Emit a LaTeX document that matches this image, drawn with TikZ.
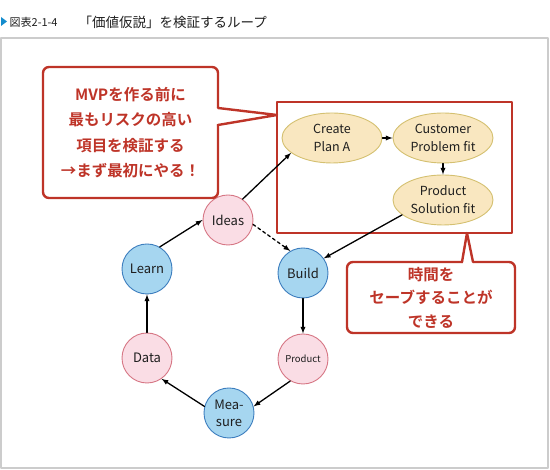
\documentclass[tikz,border=0pt]{standalone}
\usepackage{fontspec}
\setmainfont{Noto Sans CJK JP}[BoldFont={Noto Sans CJK JP Bold}]
\usetikzlibrary{shapes.geometric}
\definecolor{calloutred}{RGB}{190,52,40}
\definecolor{pinkfill}{RGB}{250,221,229}
\definecolor{pinkline}{RGB}{214,118,132}
\definecolor{bluefill}{RGB}{166,214,240}
\definecolor{blueline}{RGB}{60,125,190}
\definecolor{planfill}{RGB}{249,231,192}
\definecolor{planline}{RGB}{212,192,112}
\definecolor{framegray}{RGB}{204,204,204}
\definecolor{titleblue}{RGB}{20,140,205}
\definecolor{inktext}{RGB}{30,30,30}
\begin{document}
\begin{tikzpicture}[x=1pt,y=1pt,line width=1.3pt,>=latex,
  line cap=round,line join=round,font=\fontsize{13}{17}\selectfont,
  pinkcirc/.style={circle,draw=pinkline,fill=pinkfill,line width=.9pt,
    minimum size=50pt,inner sep=0pt,align=center,text=inktext},
  bluecirc/.style={circle,draw=blueline,fill=bluefill,line width=.9pt,
    minimum size=50pt,inner sep=0pt,align=center,text=inktext},
  plan/.style={ellipse,draw=planline,fill=planfill,line width=.9pt,
    minimum width=100pt,minimum height=50pt,inner sep=0pt,align=center,
    text=inktext,font=\fontsize{12.5}{18}\selectfont},
  callout/.style={draw=calloutred,line width=2.4pt},
  callouttext/.style={text=calloutred,align=center,
    font=\bfseries\fontsize{15.5}{25.5}\selectfont}]
  \useasboundingbox (0,0) rectangle (550,470);
  % title line and frame
  \fill[titleblue] (1,444) -- (7,448.5) -- (1,453) -- cycle;
  \node[anchor=west,inner sep=0pt,text=inktext,
    font=\fontsize{11}{12}\selectfont] (fignum) at (9,448) {図表2-1-4};
  \node[anchor=west,inner sep=0pt,text=inktext,
    font=\fontsize{13.5}{14}\selectfont] (title) at (78,448)
    {「価値仮説」を検証するループ};
  \draw[framegray,line width=1.5pt] (1,2) rectangle (548,432);
  % build-measure-learn loop
  \foreach \name/\x/\y/\kind/\txt in {ideas/228/250/pinkcirc/Ideas,
      learn/147/201/bluecirc/Learn,build/303/197/bluecirc/Build,
      data/147/112/pinkcirc/Data,measure/229/57/bluecirc/{Mea-\\sure}}{
    \node[\kind] (\name) at (\x,\y) {\txt};
  }
  \node[pinkcirc,font=\fontsize{9.5}{11}\selectfont] (product) at (303,111)
    {Product};
  % plan A steps
  \draw[callout] (277,237) rectangle (512,368);
  \node[plan] (create) at (332,332) {Create\\Plan A};
  \node[plan] (customer) at (443,332) {Customer\\Problem fit};
  \node[plan] (prodsol) at (443,270) {Product\\Solution fit};
  % callouts
  \draw[callout,rounded corners=6pt] (43,272) rectangle (218,403);
  \fill[white] (216,345.5) rectangle (220.5,361.5);
  \draw[callout] (218,362) -- (277,355) -- (218,345);
  \node[callouttext] (risk) at (130.5,337.5)
    {MVPを作る前に\\最もリスクの高い\\項目を検証する\\→まず最初にやる！};
  \draw[callout,rounded corners=6pt] (347,137) rectangle (515,208);
  \fill[white] (462.5,205.5) rectangle (472.5,210.5);
  \draw[callout] (462,208) -- (467,237) -- (473,208);
  \node[callouttext,font=\bfseries\fontsize{15.5}{23.5}\selectfont] (save)
    at (431,172.5) {時間を\\セーブすることが\\できる};
  % connectors
  \draw[->] (learn.60) -- (ideas.west);
  \draw[->] (ideas.55) -- (create.200);
  \draw[->,dashed] (ideas.-10) -- (build.120);
  \draw[->] (prodsol.200) -- (build.35);
  \draw[->] (build) -- (product);
  \draw[->] (product.240) -- (measure.15);
  \draw[->] (measure.165) -- (data.-55);
  \draw[->] (data) -- (learn);
  \draw[->] (create) -- (customer);
  \draw[->] (customer) -- (prodsol);
\end{tikzpicture}
\end{document}
